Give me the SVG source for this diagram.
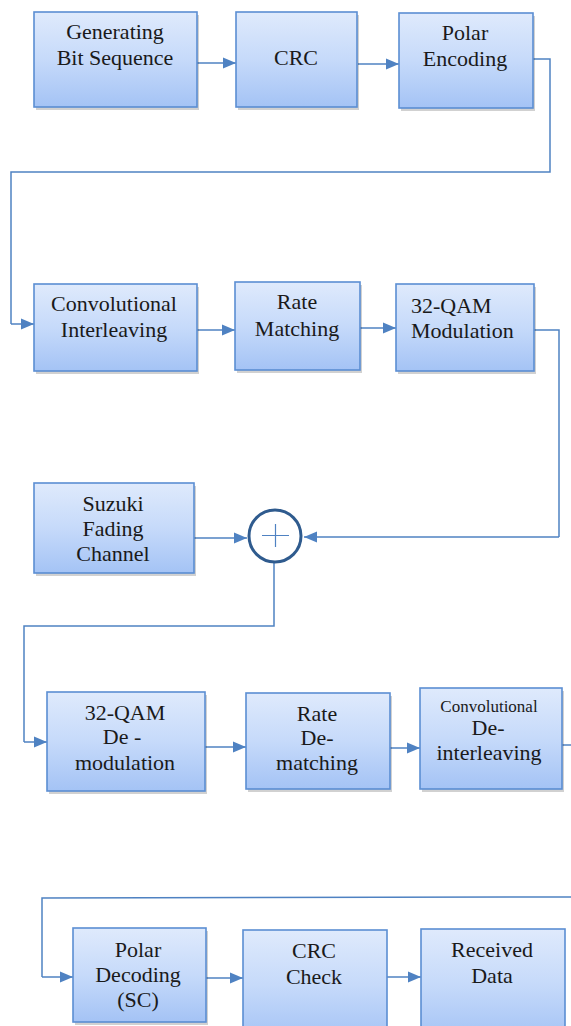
<svg xmlns="http://www.w3.org/2000/svg" width="571" height="1026" viewBox="0 0 571 1026">
<style>
.box{fill:url(#g);stroke:#5b8ed3;stroke-width:1.6}
.sh{fill:#000;opacity:0.18}
.c{fill:none;stroke:#4f82c2;stroke-width:1.5}
.a{marker-end:url(#ar)}
</style>
<defs>
<linearGradient id="g" x1="0" y1="0" x2="0" y2="1">
<stop offset="0" stop-color="#dfeafc"/>
<stop offset="0.5" stop-color="#c6dafa"/>
<stop offset="1" stop-color="#a4c3f5"/>
</linearGradient>
<marker id="ar" markerUnits="userSpaceOnUse" markerWidth="14" markerHeight="12" refX="13" refY="6" orient="auto">
<path d="M0,0.5 L13,6 L0,11.5 z" fill="#4f82c2"/>
</marker>
</defs>

<g id="connectors">
<path class="c a" d="M197,63 H236"/>
<path class="c a" d="M358,64 H399"/>
<path class="c" d="M533,59 H550 V172 H11 V324"/>
<path class="c a" d="M11,324 H34"/>
<path class="c a" d="M197,330 H235"/>
<path class="c a" d="M360,328 H396"/>
<path class="c" d="M534,330 H559 V537"/>
<path class="c a" d="M559,537 H304"/>
<path class="c a" d="M194,538 H247"/>
<path class="c" d="M274,563 V626 H24 V742"/>
<path class="c a" d="M24,742 H47"/>
<path class="c a" d="M205,747 H246"/>
<path class="c a" d="M390,748 H420"/>
<path class="c" d="M562,745 H571"/>
<path class="c" d="M571,897 L42,898 V977"/>
<path class="c a" d="M42,977 H73"/>
<path class="c a" d="M206,978 H243"/>
<path class="c a" d="M387,977 H421"/>
</g>

<g id="gen"><rect class="sh" x="36" y="15" width="163" height="95"/><rect class="box" x="34" y="12" width="163" height="95"/>
<text style="font-family:'Liberation Serif',serif;font-size:22px;text-anchor:middle" fill="#1a1a1a" x="115" y="39">Generating</text>
<text style="font-family:'Liberation Serif',serif;font-size:22px;text-anchor:middle" fill="#1a1a1a" x="115" y="65">Bit Sequence</text></g>
<g id="crc"><rect class="sh" x="238" y="15" width="121" height="95"/><rect class="box" x="236" y="12" width="121" height="95"/>
<text style="font-family:'Liberation Serif',serif;font-size:22px;text-anchor:middle" fill="#1a1a1a" x="296" y="65">CRC</text></g>
<g id="polarenc"><rect class="sh" x="401" y="16" width="134" height="95"/><rect class="box" x="399" y="13" width="134" height="95"/>
<text style="font-family:'Liberation Serif',serif;font-size:22px;text-anchor:middle" fill="#1a1a1a" x="465" y="40">Polar</text>
<text style="font-family:'Liberation Serif',serif;font-size:22px;text-anchor:middle" fill="#1a1a1a" x="465" y="66">Encoding</text></g>

<g id="convint"><rect class="sh" x="36" y="287" width="163" height="87"/><rect class="box" x="34" y="284" width="163" height="87"/>
<text style="font-family:'Liberation Serif',serif;font-size:22px;text-anchor:middle" fill="#1a1a1a" x="114" y="311">Convolutional</text>
<text style="font-family:'Liberation Serif',serif;font-size:22px;text-anchor:middle" fill="#1a1a1a" x="114" y="337">Interleaving</text></g>
<g id="ratematch"><rect class="sh" x="237" y="285" width="125" height="88"/><rect class="box" x="235" y="282" width="125" height="88"/>
<text style="font-family:'Liberation Serif',serif;font-size:22px;text-anchor:middle" fill="#1a1a1a" x="297" y="309">Rate</text>
<text style="font-family:'Liberation Serif',serif;font-size:22px;text-anchor:middle" fill="#1a1a1a" x="297" y="336">Matching</text></g>
<g id="qammod"><rect class="sh" x="398" y="287" width="138" height="87"/><rect class="box" x="396" y="284" width="138" height="87"/>
<text style="font-family:'Liberation Serif',serif;font-size:22px;text-anchor:start" fill="#1a1a1a" x="411" y="313">32-QAM</text>
<text style="font-family:'Liberation Serif',serif;font-size:22px;text-anchor:start" fill="#1a1a1a" x="411" y="338">Modulation</text></g>

<g id="suzuki"><rect class="sh" x="36" y="486" width="160" height="90"/><rect class="box" x="34" y="483" width="160" height="90"/>
<text style="font-family:'Liberation Serif',serif;font-size:22px;text-anchor:middle" fill="#1a1a1a" x="113" y="511">Suzuki</text>
<text style="font-family:'Liberation Serif',serif;font-size:22px;text-anchor:middle" fill="#1a1a1a" x="113" y="536">Fading</text>
<text style="font-family:'Liberation Serif',serif;font-size:22px;text-anchor:middle" fill="#1a1a1a" x="113" y="561">Channel</text></g>
<g id="adder">
<circle cx="275" cy="536" r="26" fill="#fff" stroke="#2f5b8e" stroke-width="3"/>
<path d="M262,535.5 H289 M275.5,524 V547" stroke="#4f82c2" stroke-width="1.2" fill="none"/>
</g>

<g id="qamdemod"><rect class="sh" x="49" y="695" width="158" height="99"/><rect class="box" x="47" y="692" width="158" height="99"/>
<text style="font-family:'Liberation Serif',serif;font-size:22px;text-anchor:middle" fill="#1a1a1a" x="125" y="720">32-QAM</text>
<text style="font-family:'Liberation Serif',serif;font-size:22px;text-anchor:middle" fill="#1a1a1a" x="122" y="744">De -</text>
<text style="font-family:'Liberation Serif',serif;font-size:22px;text-anchor:middle" fill="#1a1a1a" x="125" y="770">modulation</text></g>
<g id="ratedematch"><rect class="sh" x="248" y="696" width="144" height="96"/><rect class="box" x="246" y="693" width="144" height="96"/>
<text style="font-family:'Liberation Serif',serif;font-size:22px;text-anchor:middle" fill="#1a1a1a" x="317" y="721">Rate</text>
<text style="font-family:'Liberation Serif',serif;font-size:22px;text-anchor:middle" fill="#1a1a1a" x="317" y="745">De-</text>
<text style="font-family:'Liberation Serif',serif;font-size:22px;text-anchor:middle" fill="#1a1a1a" x="317" y="770">matching</text></g>
<g id="convdeint"><rect class="sh" x="422" y="691" width="142" height="101"/><rect class="box" x="420" y="688" width="142" height="101"/>
<text style="font-family:'Liberation Serif',serif;font-size:17px;text-anchor:middle" fill="#1a1a1a" x="489" y="712">Convolutional</text>
<text style="font-family:'Liberation Serif',serif;font-size:22px;text-anchor:middle" fill="#1a1a1a" x="488" y="735">De-</text>
<text style="font-family:'Liberation Serif',serif;font-size:22px;text-anchor:middle" fill="#1a1a1a" x="489" y="760">interleaving</text></g>

<g id="polardec"><rect class="sh" x="75" y="931" width="133" height="94"/><rect class="box" x="73" y="928" width="133" height="94"/>
<text style="font-family:'Liberation Serif',serif;font-size:22px;text-anchor:middle" fill="#1a1a1a" x="138" y="957">Polar</text>
<text style="font-family:'Liberation Serif',serif;font-size:22px;text-anchor:middle" fill="#1a1a1a" x="138" y="982">Decoding</text>
<text style="font-family:'Liberation Serif',serif;font-size:22px;text-anchor:middle" fill="#1a1a1a" x="138" y="1007">(SC)</text></g>
<g id="crccheck"><rect class="box" x="243" y="930" width="144" height="110"/>
<text style="font-family:'Liberation Serif',serif;font-size:22px;text-anchor:middle" fill="#1a1a1a" x="314" y="958">CRC</text>
<text style="font-family:'Liberation Serif',serif;font-size:22px;text-anchor:middle" fill="#1a1a1a" x="314" y="984">Check</text></g>
<g id="received"><rect class="box" x="421" y="929" width="144" height="110"/>
<text style="font-family:'Liberation Serif',serif;font-size:22px;text-anchor:middle" fill="#1a1a1a" x="492" y="957">Received</text>
<text style="font-family:'Liberation Serif',serif;font-size:22px;text-anchor:middle" fill="#1a1a1a" x="492" y="983">Data</text></g>
</svg>
